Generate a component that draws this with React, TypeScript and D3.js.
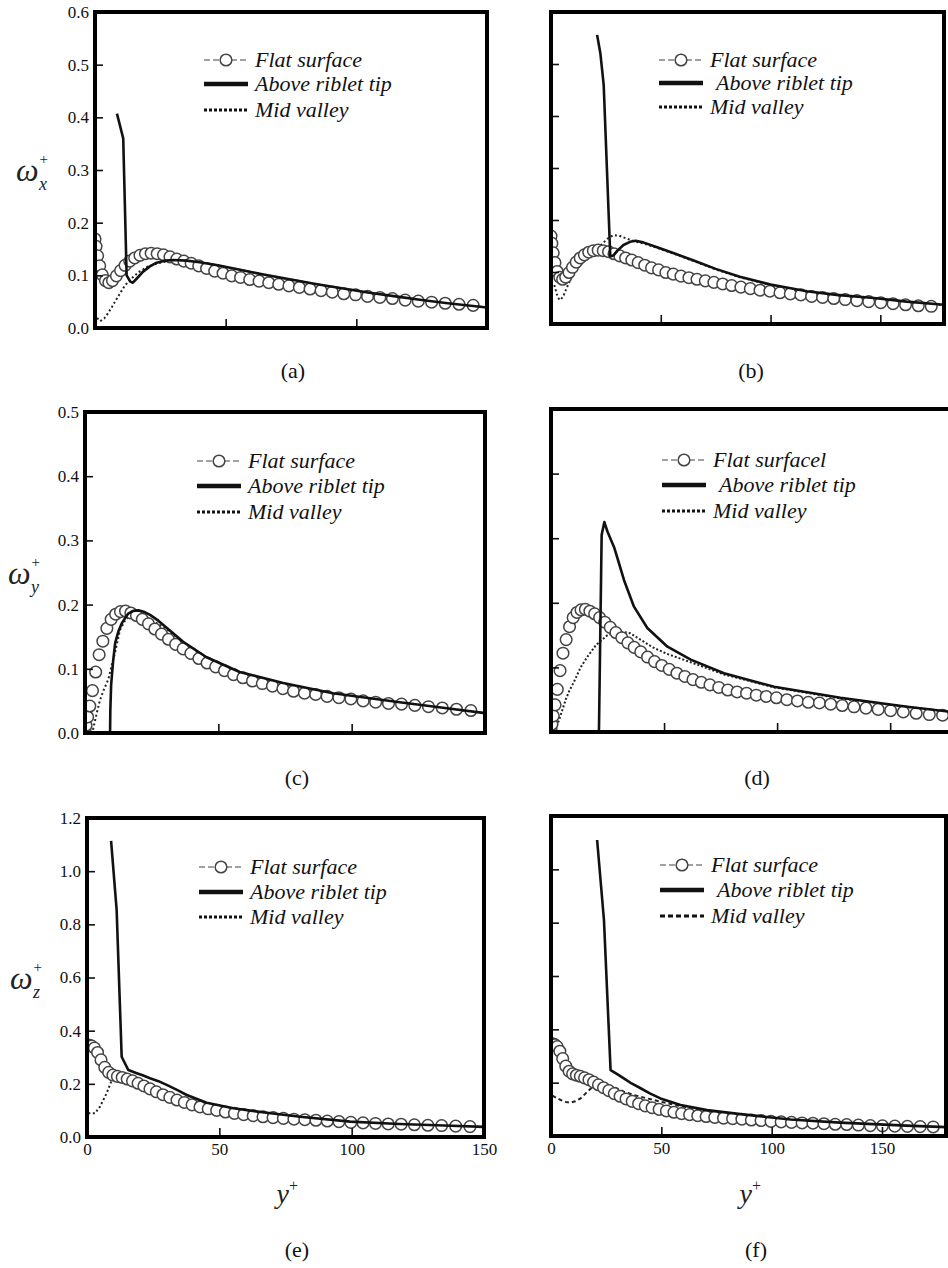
import React, { useEffect, useRef } from 'react';
import * as d3 from 'd3';

const W = 948;
const H = 1268;

// wall-normal positions of the flat-surface symbols (same grid in every panel)
const flatYPlus = [
  0, 0.4, 1, 1.8, 2.8, 4, 5.3, 6.7, 8.2, 9.8, 11.5, 13.3, 15.2, 17.2, 19.3, 21.5,
  23.8, 26.2, 28.7, 31.3, 34, 36.8, 39.7, 42.7, 45.8, 49, 52.3, 55.7, 59.2, 62.8,
  66.5, 70.3, 74.2, 78.2, 82.3, 86.5, 90.8, 95.2, 99.7, 104.3, 109, 113.8, 118.7,
  123.7, 128.8, 134, 139.3, 144.7, 150.2, 155.8, 161.5, 167.3, 173.2,
];
const flatOmegaX = [
  0.169, 0.155, 0.137, 0.118, 0.101, 0.09, 0.086, 0.09, 0.099, 0.109, 0.119, 0.127,
  0.133, 0.138, 0.141, 0.142, 0.141, 0.139, 0.135, 0.131, 0.127, 0.123, 0.118, 0.113,
  0.108, 0.104, 0.099, 0.096, 0.092, 0.089, 0.086, 0.083, 0.08, 0.077, 0.074, 0.071,
  0.068, 0.065, 0.063, 0.06, 0.058, 0.056, 0.053, 0.051, 0.049, 0.047, 0.045, 0.043,
  0.041, 0.039, 0.037, 0.035, 0.034,
];
const flatOmegaY = [
  0.005, 0.012, 0.025, 0.042, 0.066, 0.095, 0.122, 0.143, 0.163, 0.177, 0.185, 0.189,
  0.19, 0.187, 0.183, 0.177, 0.17, 0.162, 0.154, 0.146, 0.138, 0.131, 0.124, 0.116,
  0.109, 0.103, 0.097, 0.091, 0.086, 0.081, 0.077, 0.073, 0.069, 0.065, 0.062, 0.06,
  0.057, 0.055, 0.053, 0.05, 0.048, 0.046, 0.045, 0.043, 0.041, 0.039, 0.037, 0.035,
  0.033, 0.031, 0.029, 0.027, 0.026,
];
const flatOmegaZ = [
  0.346, 0.346, 0.345, 0.342, 0.335, 0.318, 0.29, 0.262, 0.243, 0.233, 0.228, 0.224,
  0.218, 0.211, 0.202, 0.192, 0.181, 0.17, 0.159, 0.149, 0.139, 0.13, 0.121, 0.113,
  0.106, 0.1, 0.094, 0.089, 0.084, 0.08, 0.076, 0.073, 0.07, 0.067, 0.065, 0.063,
  0.06, 0.058, 0.055, 0.053, 0.051, 0.049, 0.048, 0.046, 0.044, 0.043, 0.041, 0.039,
  0.038, 0.037, 0.036, 0.035, 0.034,
];

// (a) omega_x, riblet case 1
const tipYPlusA = [8.4, 10.8, 12.1, 13.5, 14.5, 16, 18.4, 21, 23.6, 27, 30, 35, 40, 47, 55, 65, 75, 85, 95, 105, 115, 125, 135, 150];
const tipOmegaA = [0.407, 0.36, 0.1, 0.088, 0.086, 0.094, 0.107, 0.117, 0.124, 0.128, 0.129, 0.128, 0.125, 0.119, 0.111, 0.101, 0.092, 0.083, 0.075, 0.067, 0.06, 0.053, 0.047, 0.039];
const valleyYPlusA = [0.8, 2, 3.5, 5, 6.5, 8, 9.6, 11, 12.5, 14.6, 17, 20, 24, 28, 33, 40, 47, 55, 65, 75, 85, 95, 105, 115, 125, 135, 150];
const valleyOmegaA = [0.019, 0.013, 0.018, 0.028, 0.04, 0.053, 0.066, 0.077, 0.087, 0.097, 0.107, 0.116, 0.123, 0.127, 0.128, 0.125, 0.119, 0.111, 0.101, 0.092, 0.083, 0.075, 0.067, 0.06, 0.053, 0.047, 0.039];

// (b) omega_x, riblet case 2
const tipYPlusB = [21, 22.5, 24, 27, 28.5, 30.5, 33, 36, 38.5, 42, 48, 56, 65, 75, 86, 100, 116.5, 130, 147, 162, 179];
const tipOmegaB = [0.556, 0.52, 0.46, 0.13, 0.132, 0.142, 0.152, 0.158, 0.16, 0.157, 0.148, 0.136, 0.122, 0.106, 0.091, 0.076, 0.063, 0.056, 0.05, 0.043, 0.037];
const valleyYPlusB = [1.5, 3, 4, 5.5, 7, 9, 12, 15, 19, 23, 26, 28.6, 31, 34, 38, 42, 48, 56, 65, 75, 86, 100, 116.5, 130, 147, 162, 179];
const valleyOmegaB = [0.075, 0.052, 0.046, 0.052, 0.068, 0.087, 0.106, 0.121, 0.137, 0.153, 0.165, 0.171, 0.17, 0.165, 0.159, 0.155, 0.147, 0.135, 0.121, 0.105, 0.09, 0.075, 0.062, 0.055, 0.049, 0.042, 0.036];

// (c) omega_y, riblet case 1
const tipYPlusC = [9.4, 9.5, 9.8, 10.5, 11.3, 12.5, 13.8, 16.2, 18, 20, 22, 24.4, 27.5, 30.6, 36.8, 45.6, 58, 74.3, 93, 118, 135, 150];
const tipOmegaC = [0, 0.036, 0.075, 0.11, 0.14, 0.158, 0.171, 0.186, 0.19, 0.191, 0.189, 0.184, 0.175, 0.164, 0.142, 0.118, 0.095, 0.078, 0.062, 0.048, 0.039, 0.031];
const valleyYPlusC = [3, 3.8, 4.7, 5.6, 7, 8.7, 10, 11.3, 13.1, 15, 17, 19, 22, 25, 30.6, 36.8, 45.6, 58, 74.3, 93, 118, 135, 150];
const valleyOmegaC = [0.005, 0.02, 0.036, 0.051, 0.067, 0.083, 0.105, 0.126, 0.16, 0.175, 0.182, 0.184, 0.182, 0.176, 0.162, 0.141, 0.117, 0.094, 0.077, 0.061, 0.047, 0.038, 0.031];

// (d) omega_y, riblet case 2
const tipYPlusD = [21.2, 22.4, 23.6, 25, 27.9, 30, 32.3, 36.7, 42.6, 51.5, 61.8, 76.5, 98.7, 128, 157.5, 180];
const tipOmegaD = [0, 0.305, 0.325, 0.31, 0.286, 0.262, 0.235, 0.194, 0.161, 0.132, 0.112, 0.091, 0.07, 0.053, 0.039, 0.03];
const valleyYPlusD = [2, 3.5, 5, 6.5, 8, 10.2, 13.1, 16, 20, 25, 30, 35, 40, 45, 51.3, 61.8, 76.5, 98.7, 128, 157.5, 180];
const valleyOmegaD = [0.003, 0.018, 0.034, 0.05, 0.063, 0.078, 0.1, 0.116, 0.135, 0.15, 0.156, 0.153, 0.142, 0.131, 0.121, 0.108, 0.089, 0.069, 0.052, 0.039, 0.03];

// (e) omega_z, riblet case 1
const tipYPlusE = [9.1, 11.2, 13.1, 15.6, 18.8, 21, 23.8, 27, 30.1, 34, 37.7, 45.2, 55.3, 67.9, 80.5, 99.4, 118, 135, 150];
const tipOmegaE = [1.114, 0.854, 0.302, 0.252, 0.24, 0.232, 0.221, 0.21, 0.196, 0.177, 0.158, 0.129, 0.108, 0.091, 0.076, 0.058, 0.049, 0.043, 0.038];
const valleyYPlusE = [0.5, 3, 4.9, 6.2, 7.4, 8.6, 9.9, 11.5, 13.3, 15.2, 17.2, 20, 24, 28, 33, 38, 45, 55, 68, 80, 100, 118, 135, 150];
const valleyOmegaE = [0.089, 0.089, 0.114, 0.14, 0.164, 0.195, 0.227, 0.232, 0.228, 0.222, 0.215, 0.205, 0.188, 0.168, 0.148, 0.13, 0.112, 0.095, 0.081, 0.07, 0.056, 0.048, 0.042, 0.038];

// (f) omega_z, riblet case 2
const tipYPlusF = [20.9, 24, 27, 30, 33, 36.5, 40.6, 45, 49.6, 58.7, 70.7, 85.8, 108.5, 131, 161, 180];
const tipOmegaF = [1.11, 0.81, 0.247, 0.232, 0.216, 0.197, 0.179, 0.159, 0.141, 0.116, 0.097, 0.082, 0.062, 0.05, 0.039, 0.033];
const valleyYPlusF = [0.6, 2.5, 4.4, 6.5, 8.9, 11, 13.4, 15.5, 18, 22, 26, 30, 33, 38, 43.6, 50, 60, 70.7, 85.8, 108.5, 131, 161, 180];
const valleyOmegaF = [0.151, 0.143, 0.135, 0.128, 0.125, 0.13, 0.141, 0.158, 0.178, 0.192, 0.188, 0.178, 0.166, 0.153, 0.141, 0.128, 0.11, 0.095, 0.081, 0.062, 0.05, 0.039, 0.033];

const xTickValues = [0, 50, 100, 150];
const omegaXTicks = [0, 0.1, 0.2, 0.3, 0.4, 0.5, 0.6];
const omegaYTicks = [0, 0.1, 0.2, 0.3, 0.4, 0.5];
const omegaZTicks = [0, 0.2, 0.4, 0.6, 0.8, 1.0, 1.2];

const legendLabels = ['Flat surface', 'Above riblet tip', 'Mid valley'];

const panels = [
  { id: 'a', left: 95, right: 487, top: 12, bottom: 328, xMax: 150, yMax: 0.6, yTicks: omegaXTicks, yLabels: true, xLabels: false, comp: 'x',
    flat: flatOmegaX, tipX: tipYPlusA, tipY: tipOmegaA, valX: valleyYPlusA, valY: valleyOmegaA, valleyDash: '2,2.5',
    legendX: 204, legendRows: [60, 84, 110], flatLabel: 'Flat surface', indent: 0, tag: '(a)', tagX: 293, tagY: 378, clipRight: 487, titleX: 16 },
  { id: 'b', left: 551, right: 944, top: 12, bottom: 324, xMax: 179, yMax: 0.6, yTicks: omegaXTicks, yLabels: false, xLabels: false, comp: 'x',
    flat: flatOmegaX, tipX: tipYPlusB, tipY: tipOmegaB, valX: valleyYPlusB, valY: valleyOmegaB, valleyDash: '2,2.5',
    legendX: 659, legendRows: [60, 83, 107], flatLabel: 'Flat surface', indent: 6, tag: '(b)', tagX: 751, tagY: 378, clipRight: 944, titleX: 0 },
  { id: 'c', left: 85, right: 485, top: 412, bottom: 733, xMax: 150, yMax: 0.5, yTicks: omegaYTicks, yLabels: true, xLabels: false, comp: 'y',
    flat: flatOmegaY, tipX: tipYPlusC, tipY: tipOmegaC, valX: valleyYPlusC, valY: valleyOmegaC, valleyDash: '2,2.5',
    legendX: 197, legendRows: [461, 486, 512], flatLabel: 'Flat surface', indent: 0, tag: '(c)', tagX: 297, tagY: 785, clipRight: 485, titleX: 8 },
  { id: 'd', left: 551, right: 958, top: 409, bottom: 732, xMax: 180, yMax: 0.5, yTicks: omegaYTicks, yLabels: false, xLabels: false, comp: 'y',
    flat: flatOmegaY, tipX: tipYPlusD, tipY: tipOmegaD, valX: valleyYPlusD, valY: valleyOmegaD, valleyDash: '2,2',
    legendX: 662, legendRows: [460, 485, 511], flatLabel: 'Flat surfacel', indent: 6, tag: '(d)', tagX: 757, tagY: 785, clipRight: 958, titleX: 0 },
  { id: 'e', left: 87, right: 484, top: 818, bottom: 1137, xMax: 150, yMax: 1.2, yTicks: omegaZTicks, yLabels: true, xLabels: true, comp: 'z',
    flat: flatOmegaZ, tipX: tipYPlusE, tipY: tipOmegaE, valX: valleyYPlusE, valY: valleyOmegaE, valleyDash: '2,2.5',
    legendX: 199, legendRows: [867, 892, 917], flatLabel: 'Flat surface', indent: 0, tag: '(e)', tagX: 297, tagY: 1257, clipRight: 484, titleX: 10 },
  { id: 'f', left: 551, right: 946, top: 816, bottom: 1136, xMax: 179, yMax: 1.2, yTicks: omegaZTicks, yLabels: false, xLabels: true, comp: 'z',
    flat: flatOmegaZ, tipX: tipYPlusF, tipY: tipOmegaF, valX: valleyYPlusF, valY: valleyOmegaF, valleyDash: '4,3',
    legendX: 660, legendRows: [865, 890, 916], flatLabel: 'Flat surface', indent: 6, tag: '(f)', tagX: 756, tagY: 1257, clipRight: 946, titleX: 0 },
];

const serif = 'Liberation Serif, DejaVu Serif, serif';

const App = () => {
  const ref = useRef<SVGSVGElement>(null);

  useEffect(() => {
    const svg = d3.select(ref.current);
    svg.selectAll('*').remove();

    svg.append('rect').attr('width', W).attr('height', H).attr('fill', '#fff');

    panels.forEach((p) => {
      const x = d3.scaleLinear().domain([0, p.xMax]).range([p.left, p.right]);
      const y = d3.scaleLinear().domain([0, p.yMax]).range([p.bottom, p.top]);
      const line = d3
        .line<[number, number]>()
        .x((d) => x(d[0]))
        .y((d) => y(d[1]));

      const clipId = `clip-${p.id}`;
      svg
        .append('clipPath')
        .attr('id', clipId)
        .append('rect')
        .attr('x', p.left)
        .attr('y', p.top)
        .attr('width', p.clipRight - p.left)
        .attr('height', p.bottom - p.top);

      const g = svg.append('g').attr('clip-path', `url(#${clipId})`);

      // Mid valley (drawn first, partly hidden by the symbols)
      g.append('path')
        .datum(p.valX.map((v, i) => [v, p.valY[i]] as [number, number]))
        .attr('fill', 'none')
        .attr('stroke', '#222')
        .attr('stroke-width', 2)
        .attr('stroke-dasharray', p.valleyDash)
        .attr('d', line);

      // Flat surface symbols
      const flatPts = flatYPlus
        .map((v, i) => [v, p.flat[i]] as [number, number])
        .filter((d) => d[0] <= p.xMax);
      g.selectAll('circle.flat')
        .data(flatPts)
        .enter()
        .append('circle')
        .attr('class', 'flat')
        .attr('cx', (d) => x(d[0]))
        .attr('cy', (d) => y(d[1]))
        .attr('r', 5.8)
        .attr('fill', '#fff')
        .attr('stroke', '#444')
        .attr('stroke-width', 1.5);

      // Above riblet tip
      g.append('path')
        .datum(p.tipX.map((v, i) => [v, p.tipY[i]] as [number, number]))
        .attr('fill', 'none')
        .attr('stroke', '#111')
        .attr('stroke-width', 2.6)
        .attr('stroke-linejoin', 'round')
        .attr('d', line);

      // Axes with inward ticks
      const yAxis = svg
        .append('g')
        .attr('transform', `translate(${p.left},0)`)
        .call(
          d3
            .axisLeft(y)
            .tickValues(p.yTicks)
            .tickSizeInner(-8)
            .tickSizeOuter(0)
            .tickPadding(6)
            .tickFormat((d) => (p.yLabels ? d3.format('.1f')(d as number) : ''))
        );
      yAxis.select('.domain').remove();
      yAxis.selectAll('line').attr('stroke', '#111').attr('stroke-width', 1.6);
      yAxis.attr('font-family', serif).attr('font-size', 17);
      yAxis.selectAll('text').attr('fill', '#111');

      const xAxis = svg
        .append('g')
        .attr('transform', `translate(0,${p.bottom})`)
        .call(
          d3
            .axisBottom(x)
            .tickValues(xTickValues.filter((t) => t <= p.xMax))
            .tickSizeInner(-9)
            .tickSizeOuter(0)
            .tickPadding(6)
            .tickFormat((d) => (p.xLabels ? String(d) : ''))
        );
      xAxis.select('.domain').remove();
      xAxis.selectAll('line').attr('stroke', '#111').attr('stroke-width', 1.6);
      xAxis.attr('font-family', serif).attr('font-size', 17);
      xAxis.selectAll('text').attr('fill', '#111');

      // Frame
      svg
        .append('rect')
        .attr('x', p.left)
        .attr('y', p.top)
        .attr('width', p.right - p.left)
        .attr('height', p.bottom - p.top)
        .attr('fill', 'none')
        .attr('stroke', '#000')
        .attr('stroke-width', 4);

      // Legend
      const lg = svg.append('g');
      const [r0, r1, r2] = p.legendRows;
      const x0 = p.legendX;
      const x1 = p.legendX + 44;
      lg.append('line')
        .attr('x1', x0).attr('x2', x1).attr('y1', r0).attr('y2', r0)
        .attr('stroke', '#444').attr('stroke-width', 1.2).attr('stroke-dasharray', '6,3');
      lg.append('circle')
        .attr('cx', (x0 + x1) / 2).attr('cy', r0).attr('r', 5.8)
        .attr('fill', '#fff').attr('stroke', '#444').attr('stroke-width', 1.5);
      lg.append('line')
        .attr('x1', x0).attr('x2', x1).attr('y1', r1).attr('y2', r1)
        .attr('stroke', '#111').attr('stroke-width', 4.5);
      lg.append('line')
        .attr('x1', x0).attr('x2', x1).attr('y1', r2).attr('y2', r2)
        .attr('stroke', '#111').attr('stroke-width', 3).attr('stroke-dasharray', p.valleyDash === '4,3' ? '5,3' : '3,2');

      const texts = [p.flatLabel, legendLabels[1], legendLabels[2]];
      texts.forEach((t, i) => {
        lg.append('text')
          .attr('x', x0 + 51 + (i === 1 ? p.indent : 0))
          .attr('y', p.legendRows[i] + 7)
          .attr('font-family', serif)
          .attr('font-style', 'italic')
          .attr('font-size', 22)
          .attr('fill', '#111')
          .text(t);
      });

      // Panel tag
      svg.append('text')
        .attr('x', p.tagX)
        .attr('y', p.tagY)
        .attr('text-anchor', 'middle')
        .attr('font-family', serif)
        .attr('font-size', 22)
        .attr('fill', '#111')
        .text(p.tag);

      // y-axis title on the left column: omega with + and component
      if (p.yLabels) {
        const ly = (p.top + p.bottom) / 2 + 11;
        const t = svg.append('text')
          .attr('x', p.titleX).attr('y', ly)
          .attr('font-family', serif).attr('fill', '#222');
        t.append('tspan').attr('font-style', 'italic').attr('font-size', 32).text('ω');
        t.append('tspan').attr('font-size', 15).attr('dy', -17).attr('dx', 1).text('+');
        t.append('tspan').attr('font-style', 'italic').attr('font-size', 18).attr('dy', 26).attr('dx', -9).text(p.comp);
      }

      // x-axis title on the bottom row
      if (p.xLabels) {
        const cx = (p.left + p.right) / 2;
        const t = svg.append('text')
          .attr('x', cx - 9).attr('y', 1203)
          .attr('font-family', serif).attr('fill', '#222');
        t.append('tspan').attr('font-style', 'italic').attr('font-size', 28).text('y');
        t.append('tspan').attr('font-size', 16).attr('dy', -12).text('+');
      }
    });
  }, []);

  return (
    <svg
      ref={ref}
      width={W}
      height={H}
      style={{ position: 'absolute', left: 0, top: 0, display: 'block' }}
    />
  );
};

export default App;
